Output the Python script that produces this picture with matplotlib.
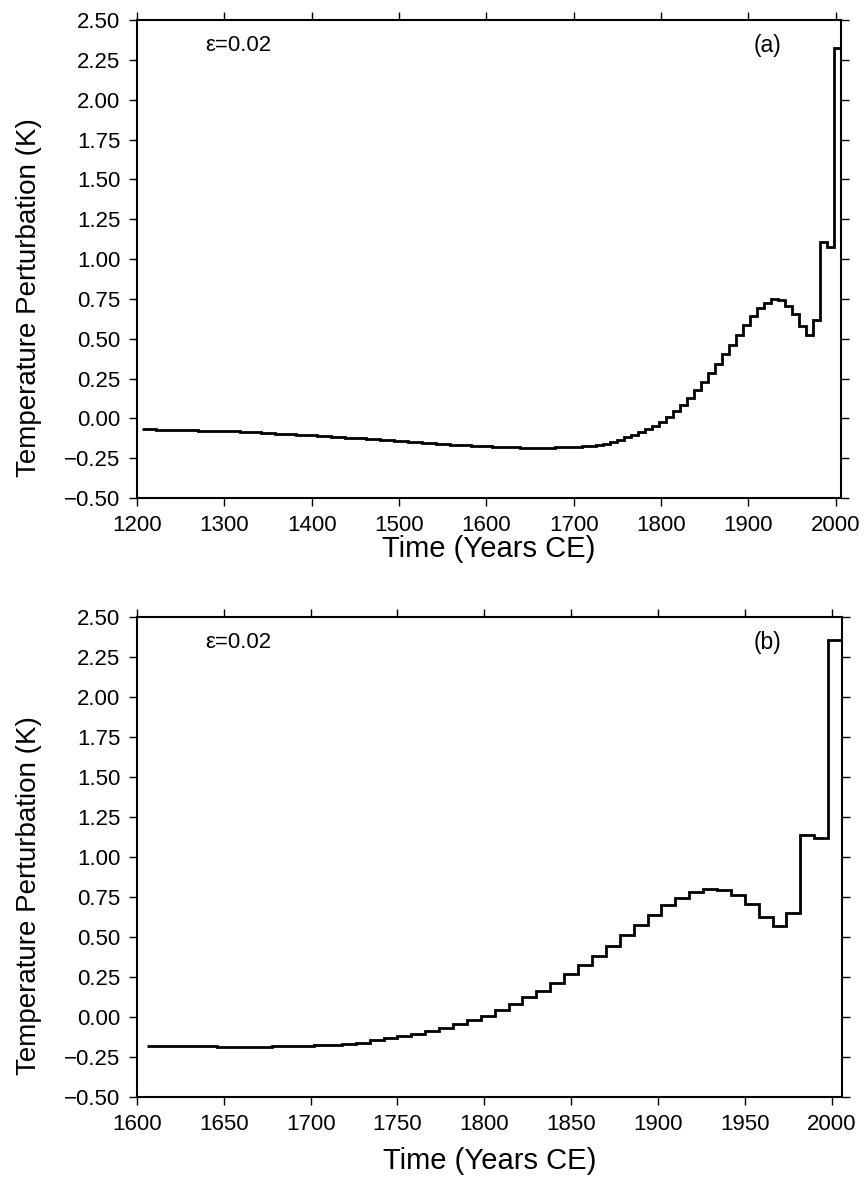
import numpy as np
import matplotlib
matplotlib.use("Agg")
import matplotlib.pyplot as plt

plt.rcParams['font.family'] = ['Liberation Sans', 'DejaVu Sans']

# 8-year blocks, values (K)
top_start = 1206
top_vals = [-0.068, -0.069, -0.070, -0.071, -0.072, -0.073, -0.074, -0.076, -0.077, -0.078,
            -0.079, -0.080, -0.081, -0.082, -0.084, -0.086, -0.088, -0.090, -0.092, -0.095,
            -0.098, -0.100, -0.102, -0.104, -0.106, -0.108, -0.111, -0.114, -0.117, -0.120,
            -0.123, -0.126, -0.129, -0.132, -0.135, -0.138, -0.141, -0.144, -0.147, -0.149,
            -0.152, -0.155, -0.158, -0.161, -0.164, -0.167, -0.169, -0.172, -0.174, -0.176,
            -0.178, -0.180, -0.181, -0.182, -0.183, -0.183, -0.183, -0.183, -0.183, -0.182,
            -0.181, -0.180, -0.178, -0.175, -0.171, -0.166, -0.159, -0.147, -0.133, -0.119,
            -0.104, -0.087, -0.068, -0.047, -0.021, 0.010, 0.046, 0.086, 0.128, 0.175,
            0.230, 0.286, 0.344, 0.403, 0.461, 0.525, 0.586, 0.645, 0.690, 0.725,
            0.748, 0.743, 0.707, 0.655, 0.579, 0.523, 0.617, 1.105, 1.077, 2.322]

bot_start = 1606
bot_vals = [-0.180, -0.181, -0.182, -0.183, -0.184, -0.185, -0.185, -0.185, -0.185, -0.184,
            -0.183, -0.181, -0.178, -0.174, -0.168, -0.160, -0.146, -0.133, -0.119, -0.107,
            -0.088, -0.069, -0.046, -0.017, 0.007, 0.042, 0.081, 0.123, 0.164, 0.210,
            0.269, 0.325, 0.380, 0.443, 0.509, 0.575, 0.637, 0.699, 0.746, 0.779,
            0.800, 0.792, 0.765, 0.704, 0.627, 0.569, 0.652, 1.137, 1.117, 2.356]
block = 8

yticks = [-0.50, -0.25, 0.00, 0.25, 0.50, 0.75, 1.00, 1.25, 1.50, 1.75, 2.00, 2.25, 2.50]
ytick_labels = ["\u22120.50", "\u22120.25", "0.00", "0.25", "0.50", "0.75", "1.00",
                "1.25", "1.50", "1.75", "2.00", "2.25", "2.50"]
top_xticks = [1200, 1300, 1400, 1500, 1600, 1700, 1800, 1900, 2000]
bot_xticks = [1600, 1650, 1700, 1750, 1800, 1850, 1900, 1950, 2000]

fig = plt.figure(figsize=(8.65, 11.85), dpi=100)


def panel(rect, start, vals, xlo, xticks, tag, xlab_y):
    ax = fig.add_axes(rect)
    edges = start + block * np.arange(len(vals) + 1)
    ax.stairs(vals, edges, baseline=None, color='black', lw=2.0)
    ax.set_xlim(xlo, edges[-1])
    ax.set_ylim(-0.5, 2.5)
    ax.set_xticks(xticks)
    ax.set_yticks(yticks)
    ax.set_yticklabels(ytick_labels)
    ax.tick_params(direction='out', length=6, width=1.0, labelsize=16,
                   top=True, right=True, pad=6)
    for s in ax.spines.values():
        s.set_linewidth(1.5)
    ax.set_xlabel("Time (Years CE)", fontsize=21)
    ax.xaxis.set_label_coords(0.5, xlab_y)
    ax.set_ylabel("Temperature Perturbation (K)", fontsize=20)
    ax.yaxis.set_label_coords(-0.135, 0.42)
    ax.text(0.097, 0.946, "\u03b5=0.02", transform=ax.transAxes, fontsize=16,
            va='center', ha='left')
    ax.text(0.895, 0.946, tag, transform=ax.transAxes, fontsize=16.5,
            va='center', ha='center')
    return ax


panel([0.1584, 0.5797, 0.8139, 0.4034], top_start, top_vals, 1200, top_xticks, "(a)", -0.077)
panel([0.1584, 0.0743, 0.8150, 0.4051], bot_start, bot_vals, 1600, bot_xticks, "(b)", -0.104)

fig.savefig("out.png", dpi=100)
